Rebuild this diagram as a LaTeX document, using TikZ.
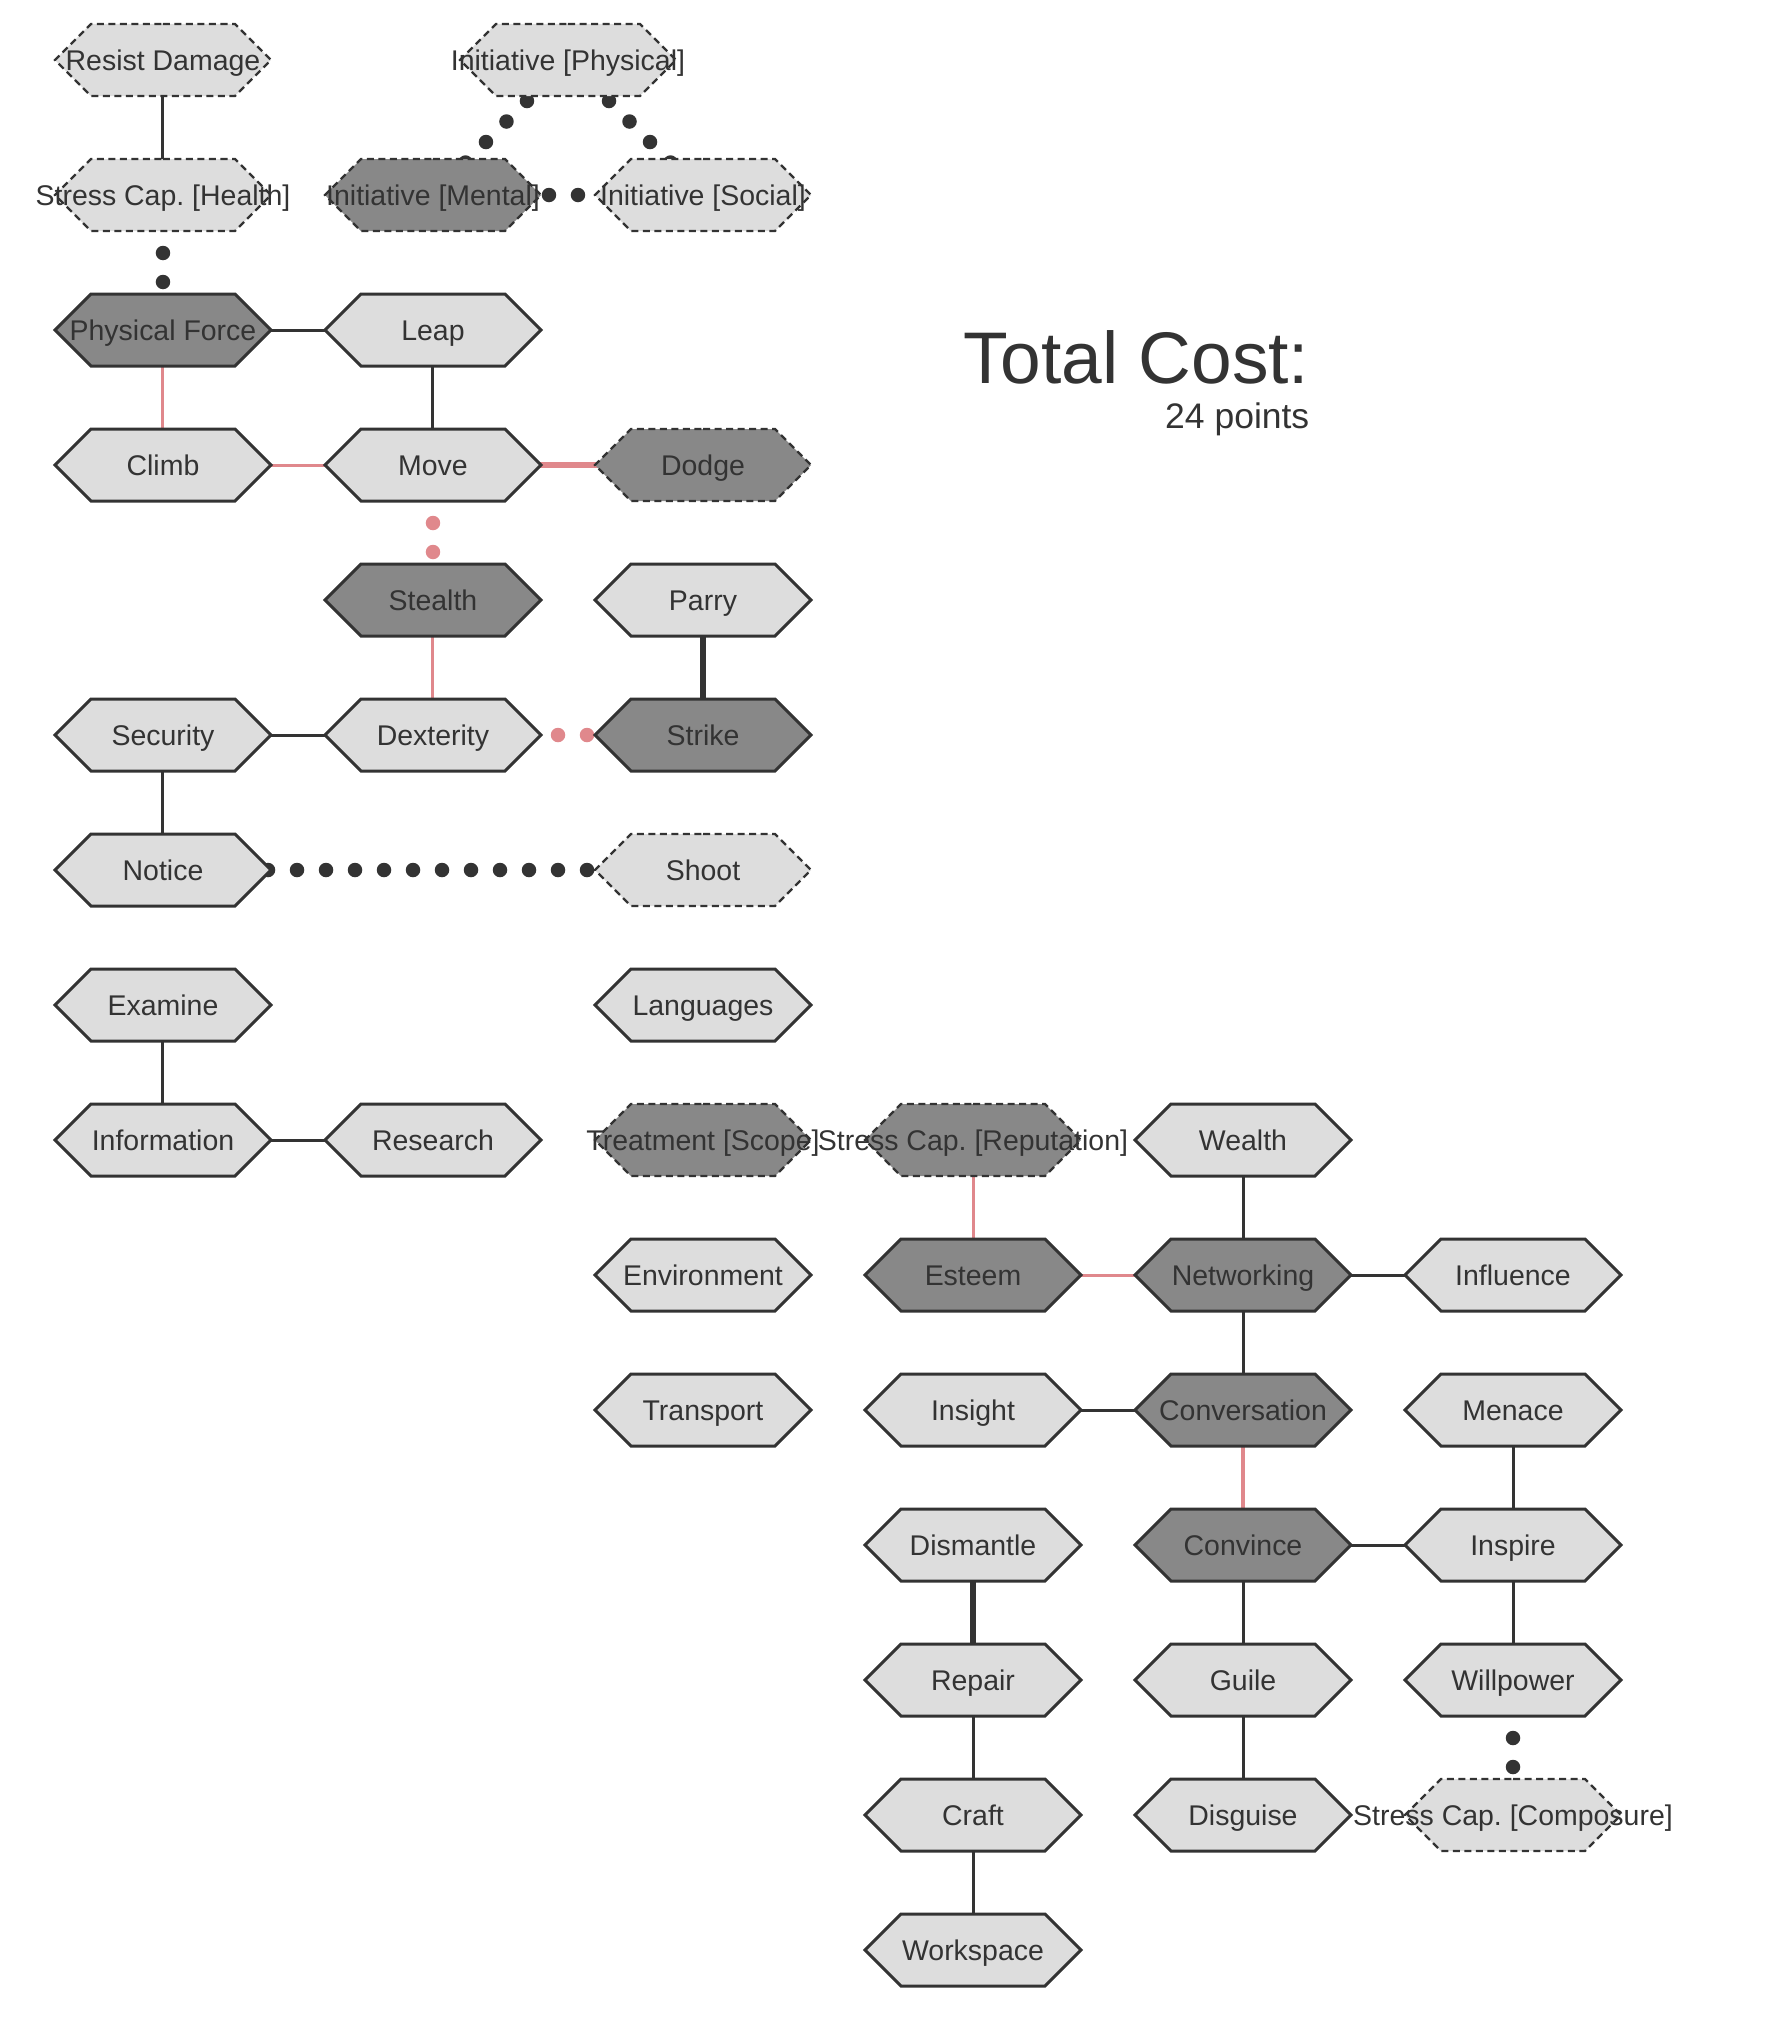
\documentclass[tikz,border=0pt]{standalone}
\usepackage{fontspec}
\setmainfont{Liberation Sans}
\frenchspacing
\usetikzlibrary{shapes.symbols,backgrounds}

\definecolor{hexline}{HTML}{333333}
\definecolor{hexlite}{HTML}{DDDDDD}
\definecolor{hexdark}{HTML}{888888}
\definecolor{linkred}{HTML}{E0888C}

\tikzset{
	hexnode/.style={signal, signal to=east and west, signal pointer angle=90,
		minimum width=2.16cm, minimum height=0.72cm, inner sep=0pt,
		draw=hexline, line width=0.03cm, text=hexline,
		font=\fontsize{8.1}{9.7}\selectfont, text height=7pt, text depth=1.2pt,
		execute at begin node={\hbox to 0pt\bgroup\hss},
		execute at end node={\hss\egroup}},
	lite/.style={hexnode, fill=hexlite},
	dark/.style={hexnode, fill=hexdark},
	opt/.style={line width=0.022cm, dash pattern=on 0.07cm off 0.045cm},
	link/.style={draw=hexline, line width=0.03cm},
	redlink/.style={draw=linkred, line width=0.03cm},
	heavy/.style={line width=0.065cm},
	dotlink/.style={line width=0.145cm, line cap=round, dash pattern=on 0pt off 0.29cm}
}

\begin{document}
\begin{tikzpicture}[x=2.7cm,y=-1.35cm]
	\useasboundingbox ({-163/270},{-60/135}) rectangle ({1609/270},{1980/135});
	% initiative and health
		\node[lite,opt] (resist) at (0,0) {Resist Damage};
		\node[lite,opt] (inphys) at (1.5,0) {Initiative [Physical]};
		\node[lite,opt] (health) at (0,1) {Stress Cap. [Health]};
		\node[dark,opt] (inment) at (1,1) {Initiative [Mental]};
		\node[lite,opt] (insoc) at (2,1) {Initiative [Social]};
	% physical
		\node[dark] (force) at (0,2) {Physical Force};
		\node[lite] (leap) at (1,2) {Leap};
		\node[lite] (climb) at (0,3) {Climb};
		\node[lite] (move) at (1,3) {Move};
		\node[dark,opt] (dodge) at (2,3) {Dodge};
		\node[dark] (stealth) at (1,4) {Stealth};
		\node[lite] (parry) at (2,4) {Parry};
		\node[lite] (security) at (0,5) {Security};
		\node[lite] (dex) at (1,5) {Dexterity};
		\node[dark] (strike) at (2,5) {Strike};
		\node[lite] (notice) at (0,6) {Notice};
		\node[lite,opt] (shoot) at (2,6) {Shoot};
	% mental
		\node[lite] (examine) at (0,7) {Examine};
		\node[lite] (langs) at (2,7) {Languages};
		\node[lite] (info) at (0,8) {Information};
		\node[lite] (research) at (1,8) {Research};
		\node[dark,opt] (treat) at (2,8) {Treatment [Scope]};
		\node[lite] (environ) at (2,9) {Environment};
		\node[lite] (transport) at (2,10) {Transport};
	% social
		\node[dark,opt] (repcap) at (3,8) {Stress Cap. [Reputation]};
		\node[lite] (wealth) at (4,8) {Wealth};
		\node[dark] (esteem) at (3,9) {Esteem};
		\node[dark] (network) at (4,9) {Networking};
		\node[lite] (influence) at (5,9) {Influence};
		\node[lite] (insight) at (3,10) {Insight};
		\node[dark] (convo) at (4,10) {Conversation};
		\node[lite] (menace) at (5,10) {Menace};
		\node[dark] (convince) at (4,11) {Convince};
		\node[lite] (inspire) at (5,11) {Inspire};
		\node[lite] (guile) at (4,12) {Guile};
		\node[lite] (willpower) at (5,12) {Willpower};
		\node[lite] (disguise) at (4,13) {Disguise};
		\node[lite,opt] (compcap) at (5,13) {Stress Cap. [Composure]};
	% crafting
		\node[lite] (dismantle) at (3,11) {Dismantle};
		\node[lite] (repair) at (3,12) {Repair};
		\node[lite] (craft) at (3,13) {Craft};
		\node[lite] (workspace) at (3,14) {Workspace};
	% cost
		\node[anchor=base east,text=hexline,font=\fontsize{20.8}{24}\selectfont,inner sep=0pt] (costtitle) at ({1147/270},{323/135}) {Total Cost:};
		\node[anchor=base east,text=hexline,font=\fontsize{10.1}{12}\selectfont,inner sep=0pt] (costvalue) at ({1147/270},{368/135}) {24 points};
	% links under the nodes
	\begin{scope}[on background layer]
		\draw[link] (resist.center) -- (health.center);
		\draw[link,dotlink] (health.center) -- (force.center);
		\draw[link,dotlink] (inphys.center) -- (inment.center);
		\draw[link,dotlink] (inphys.center) -- (insoc.center);
		\draw[link,dotlink] (inment.center) -- (insoc.center);
		\draw[link] (force.center) -- (leap.center);
		\draw[redlink] (force.center) -- (climb.center);
		\draw[link] (leap.center) -- (move.center);
		\draw[redlink] (climb.center) -- (move.center);
		\draw[redlink,heavy] (move.center) -- (dodge.center);
		\draw[redlink,dotlink] (move.center) -- (stealth.center);
		\draw[redlink] (stealth.center) -- (dex.center);
		\draw[link,heavy] (parry.center) -- (strike.center);
		\draw[link] (security.center) -- (dex.center);
		\draw[redlink,dotlink] (strike.center) -- (dex.center);
		\draw[link] (security.center) -- (notice.center);
		\draw[link,dotlink] (shoot.center) -- (notice.center);
		\draw[link] (examine.center) -- (info.center);
		\draw[link] (info.center) -- (research.center);
		\draw[redlink] (repcap.center) -- (esteem.center);
		\draw[link] (wealth.center) -- (network.center);
		\draw[redlink] (esteem.center) -- (network.center);
		\draw[link] (network.center) -- (influence.center);
		\draw[link] (network.center) -- (convo.center);
		\draw[link] (insight.center) -- (convo.center);
		\draw[redlink,line width=0.04cm] (convo.center) -- (convince.center);
		\draw[link] (menace.center) -- (inspire.center);
		\draw[link] (convince.center) -- (inspire.center);
		\draw[link] (convince.center) -- (guile.center);
		\draw[link] (guile.center) -- (disguise.center);
		\draw[link] (inspire.center) -- (willpower.center);
		\draw[link,dotlink] (willpower.center) -- (compcap.center);
		\draw[link,heavy] (dismantle.center) -- (repair.center);
		\draw[link] (repair.center) -- (craft.center);
		\draw[link] (craft.center) -- (workspace.center);
	\end{scope}
\end{tikzpicture}
\end{document}
